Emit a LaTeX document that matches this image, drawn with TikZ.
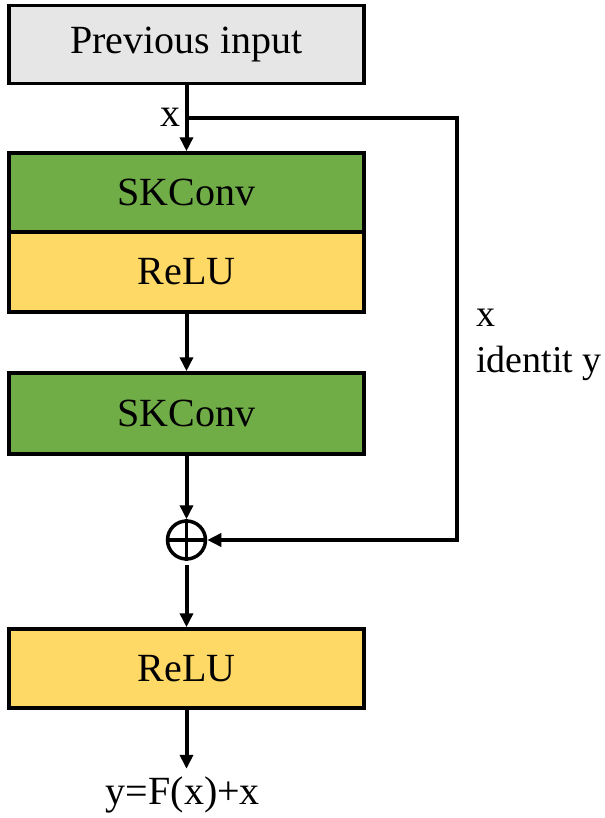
\documentclass[tikz,border=0pt]{standalone}
\usepackage{fontspec}
\setmainfont{Liberation Serif}
\usetikzlibrary{arrows.meta, positioning}
\definecolor{skgreen}{HTML}{70AD47}
\definecolor{relugold}{HTML}{FFD966}
\definecolor{ingray}{HTML}{E7E6E6}

\begin{document}
\begin{tikzpicture}[x=1bp, y=-1bp, line width=4bp, >={Triangle[length=14bp,width=13bp]},
    font=\fontsize{40bp}{46bp}\selectfont,
    blk/.style={draw, rectangle, line width=3.5bp, minimum width=355bp, minimum height=80bp, inner sep=0pt},
    lbl/.style={inner sep=0pt}]
    \useasboundingbox (0,0) rectangle (605,818);

    \node[blk, fill=ingray, minimum height=78bp] (prev) at (186.5,44.5) {Previous input};
    \node[blk, fill=skgreen, minimum height=79bp] (sk1) at (186.5,192.5) {SKConv};
    \node[blk, fill=relugold] (relu1) at (186.5,272) {ReLU};
    \node[blk, fill=skgreen, minimum height=81bp] (sk2) at (186.5,413.5) {SKConv};
    \node[draw, circle, line width=3.5bp, minimum size=38bp, inner sep=0pt] (plus) at (186.5,540) {};
    \draw[line width=3.5bp] (plus.north) -- (plus.south);
    \draw[line width=3.5bp] (plus.west) -- (plus.east);
    \node[blk, fill=relugold, minimum height=79bp] (relu2) at (186.5,668.5) {ReLU};
    \node[lbl] (out) at (183,795) {y=F(x)+x};

    \node[lbl] (xin) at (170,117) {x};
    \node[lbl, anchor=base west, font=\fontsize{38bp}{46bp}\selectfont] (idx) at (474,326) {x};
    \node[lbl, anchor=base west, font=\fontsize{38bp}{46bp}\selectfont] (idtxt) at (474,372) {identit y};

    \coordinate (fork) at (186.5,118);
    \coordinate (rt) at (457,118);

    \draw[->] (prev.south) -- (sk1.north);
    \draw[->] (relu1.south) -- (sk2.north);
    \draw[->] (sk2.south) -- (plus.north);
    \draw[->, shorten <=4bp] (plus.south) -- (relu2.north);
    \draw[->, shorten >=6bp] (relu2.south) -- (relu2.south |- out.north);
    \draw[->] (fork) -- (rt) |- (plus.east);
\end{tikzpicture}
\end{document}
